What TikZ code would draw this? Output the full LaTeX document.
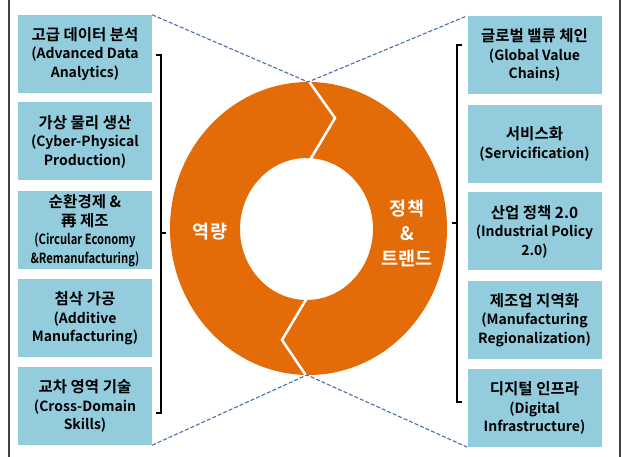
\documentclass[tikz,border=0pt]{standalone}
\usepackage{fontspec}
\usepackage{graphicx}
\setmainfont{Noto Sans CJK KR}[BoldFont={Noto Sans CJK KR Bold}]
\definecolor{boxblue}{HTML}{93CDDD}
\definecolor{ringorange}{HTML}{E36C09}
\definecolor{dashblue}{HTML}{4A6FA5}
\definecolor{framegray}{HTML}{404040}
\newcommand{\krline}[1]{{\fontsize{15.5}{18.5}\selectfont #1}}
\begin{document}
\begin{tikzpicture}[x=1pt,y=-1pt,
  itembox/.style={fill=boxblue, minimum width=134pt, minimum height=78pt, inner sep=0pt,
    align=center, text=black, font=\bfseries\fontsize{14}{18.5}\selectfont},
  ringtext/.style={text=white, align=center, font=\bfseries\fontsize{18.5}{25}\selectfont},
  dashline/.style={dashblue, line width=1.1pt, dash pattern=on 4pt off 2pt},
  bracketline/.style={black, line width=1.3pt},
  frameline/.style={framegray, line width=1.2pt},
  splitline/.style={white, line width=2.5pt}]
\useasboundingbox (0,0) rectangle (622,457);
% frame
\draw[frameline] (9,0) -- (9,457);
\draw[frameline] (620,0) -- (620,457);
% left boxes
\node[itembox] (L1) at (85,54) {\krline{고급 데이터 분석}\\(Advanced Data\\Analytics)};
\node[itembox] (L2) at (85,141.5) {\krline{가상 물리 생산}\\(Cyber-Physical\\Production)};
\node[itembox] (L3) at (85,230.5) {\krline{순환경제 \&}\\\krline{再 제조}\\\scalebox{0.8}[1]{(Circular Economy}\\\scalebox{0.8}[1]{\&Remanufacturing)}};
\node[itembox] (L4) at (85,318.5) {\krline{첨삭 가공}\\(Additive\\Manufacturing)};
\node[itembox] (L5) at (85,406) {\krline{교차 영역 기술}\\(Cross-Domain\\Skills)};
% right boxes
\node[itembox] (R1) at (534.5,55) {\krline{글로벌 밸류 체인}\\(Global Value\\Chains)};
\node[itembox] (R2) at (534.5,144) {\krline{서비스화}\\(Servicification)};
\node[itembox] (R3) at (534.5,231.5) {\krline{산업 정책 2.0}\\(Industrial Policy\\2.0)};
\node[itembox] (R4) at (534.5,320) {\krline{제조업 지역화}\\(Manufacturing\\Regionalization)};
\node[itembox] (R5) at (534.5,408) {\krline{디지털 인프라}\\(Digital\\Infrastructure)};
% brackets
\draw[bracketline] (156,55) -- (161,55) -- (161,413) -- (156,413);
\draw[bracketline] (161,233) -- (166,233);
\draw[bracketline] (462,45) -- (457,45) -- (457,402) -- (462,402);
\draw[bracketline] (457,223) -- (452,223);
% ring
\fill[ringorange, even odd rule] (308.5,228.5) ellipse [x radius=138.5pt, y radius=146.5pt]
  (306.5,229) ellipse [x radius=66.5pt, y radius=71pt];
\draw[splitline] (308,80) -- (335,118) -- (310,160);
\draw[splitline] (307,298) -- (282,340) -- (307,377);
\coordinate (rtop) at (308,82);
\coordinate (rbot) at (307,375);
% dashed
\draw[dashline] (L1.north east) -- (rtop) -- (R1.north west);
\draw[dashline] (L5.south east) -- (rbot) -- (R5.south west);
% ring labels
\node[ringtext] (cap) at (210,232) {역량};
\node[ringtext] (pol) at (407,233) {정책\\\&\\트랜드};
\end{tikzpicture}
\end{document}
